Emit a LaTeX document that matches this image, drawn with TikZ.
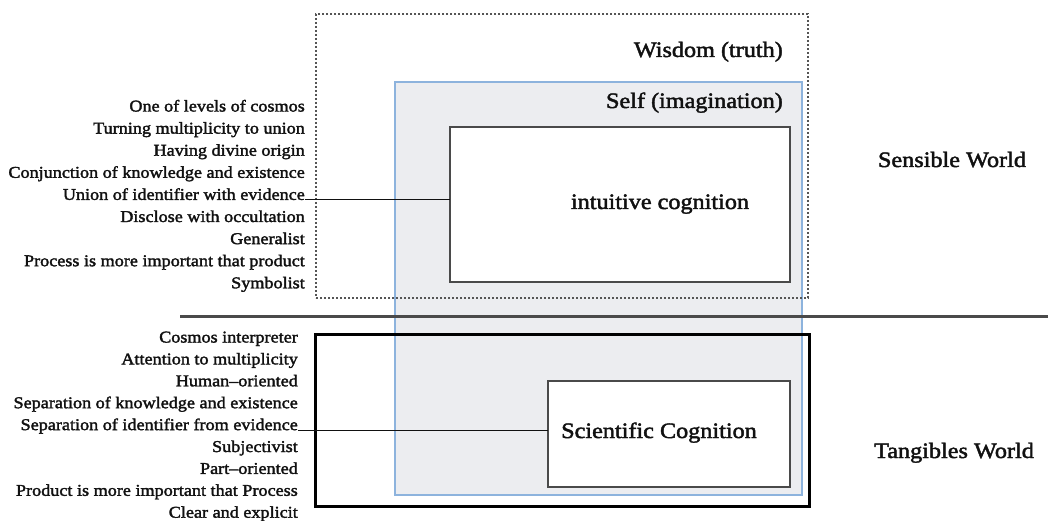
\documentclass[tikz,border=0pt]{standalone}
\usepackage{fontspec}
\setmainfont[FakeStretch=1.1,FakeBold=2]{Liberation Serif}
\definecolor{selffill}{HTML}{ECEDF0}
\definecolor{selfblue}{HTML}{8DB3DD}
\definecolor{boxgray}{HTML}{4A4A4A}
\definecolor{dotgray}{HTML}{555555}
\definecolor{ink}{HTML}{111111}
\begin{document}
\begin{tikzpicture}[x=1pt,y=-1pt,
  box/.style={rectangle, inner sep=0pt, outer sep=0pt, anchor=north west},
  small/.style={font=\fontsize{16.5}{20}\selectfont, text=ink, inner sep=0pt, anchor=base east},
  big/.style={font=\fontsize{22}{26}\selectfont, text=ink, inner sep=0pt},
  conn/.style={draw=ink, line width=1.1pt}]
\useasboundingbox (0,0) rectangle (1048,521);
% boxes
\node[box, fill=selffill, draw=selfblue, line width=1.6pt, minimum width=407pt, minimum height=413pt] (self) at (395,82) {};
\node[box, draw=dotgray, dash pattern=on 2pt off 2pt, line width=2.2pt, minimum width=492pt, minimum height=284pt] (wisdom) at (316,14) {};
\node[box, draw=black, line width=3pt, minimum width=494pt, minimum height=172pt] (tangible) at (315,334) {};
\node[box, fill=white, draw=boxgray, line width=1.8pt, minimum width=340pt, minimum height=155pt] (intuitive) at (450,127) {};
\node[box, fill=white, draw=boxgray, line width=1.8pt, minimum width=242pt, minimum height=106pt] (scientific) at (548,381) {};
% divider
\coordinate (divL) at (180,316);
\coordinate (divR) at (1048,316);
\draw[boxgray, line width=3pt] (divL) -- (divR);
% labels
\node[big, anchor=base east] (wisdomlbl) at (783,57) {Wisdom (truth)};
\node[big, anchor=base east] (selflbl) at (783,108) {Self (imagination)};
\node[big, anchor=base] (intuitivelbl) at (660,209) {intuitive cognition};
\node[big, anchor=base] (scientificlbl) at (659,438) {Scientific Cognition};
\node[big, anchor=base] (sensible) at (952,167) {Sensible World};
\node[big, anchor=base] (tangibles) at (954,458) {Tangibles World};
% upper list
\foreach \t [count=\i] in {One of levels of cosmos, Turning multiplicity to union, Having divine origin, Conjunction of knowledge and existence, Union of identifier with evidence, Disclose with occultation, Generalist, Process is more important that product, Symbolist}
  \node[small] (u\i) at (305,{111.5+22.1*(\i-1)}) {\t};
% lower list
\foreach \t [count=\i] in {Cosmos interpreter, Attention to multiplicity, Human--oriented, Separation of knowledge and existence, Separation of identifier from evidence, Subjectivist, Part--oriented, Product is more important that Process, Clear and explicit}
  \node[small] (l\i) at (298,{342.5+21.9*(\i-1)}) {\t};
% connectors
\draw[conn] (u5.base east) -- (intuitive.west |- u5.base east);
\draw[conn] (l5.base east) -- (scientific.west |- l5.base east);
\end{tikzpicture}
\end{document}
